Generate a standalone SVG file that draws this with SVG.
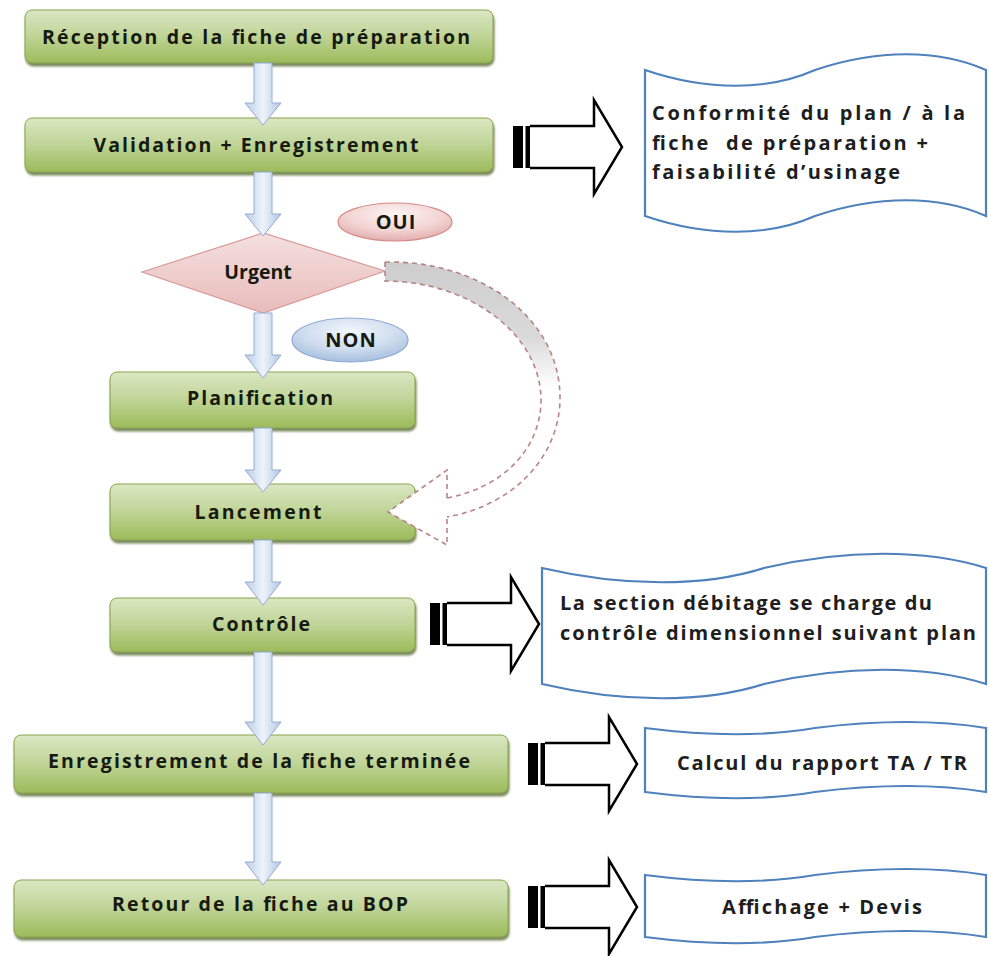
<svg xmlns="http://www.w3.org/2000/svg" width="989" height="956" viewBox="0 0 989 956">
  <defs>
    <linearGradient id="gGreen" x1="0" y1="0" x2="0" y2="1">
      <stop offset="0" stop-color="#dbe7c3"/>
      <stop offset="0.45" stop-color="#c2d69b"/>
      <stop offset="1" stop-color="#9cbb5a"/>
    </linearGradient>
    <linearGradient id="gBlueArrow" x1="0" y1="0" x2="1" y2="0">
      <stop offset="0" stop-color="#b9cde6"/>
      <stop offset="0.5" stop-color="#eef3fa"/>
      <stop offset="1" stop-color="#b3c8e3"/>
    </linearGradient>
    <linearGradient id="gPink" x1="0" y1="0" x2="0" y2="1">
      <stop offset="0" stop-color="#f4e0df"/>
      <stop offset="1" stop-color="#e8bcbb"/>
    </linearGradient>
    <radialGradient id="gOui" cx="0.5" cy="0.3" r="0.7">
      <stop offset="0" stop-color="#fdf5f5"/>
      <stop offset="0.6" stop-color="#f2d4d3"/>
      <stop offset="1" stop-color="#e2aeac"/>
    </radialGradient>
    <radialGradient id="gNon" cx="0.5" cy="0.3" r="0.7">
      <stop offset="0" stop-color="#f2f6fb"/>
      <stop offset="0.6" stop-color="#cddcee"/>
      <stop offset="1" stop-color="#a6bedf"/>
    </radialGradient>
    <linearGradient id="gBand" gradientUnits="userSpaceOnUse" x1="0" y1="262" x2="0" y2="430">
      <stop offset="0" stop-color="#cdcdcd"/>
      <stop offset="0.45" stop-color="#dadada"/>
      <stop offset="0.75" stop-color="#ffffff"/>
      <stop offset="1" stop-color="#ffffff"/>
    </linearGradient>
    <filter id="shadow" x="-5%" y="-20%" width="110%" height="150%">
      <feGaussianBlur in="SourceAlpha" stdDeviation="1.2"/>
      <feOffset dx="1" dy="2.5" result="b"/>
      <feFlood flood-color="#4f6228" flood-opacity="0.75"/>
      <feComposite in2="b" operator="in"/>
      <feMerge>
        <feMergeNode/>
        <feMergeNode in="SourceGraphic"/>
      </feMerge>
    </filter>
    <!-- striped block arrow, drawn with its left end at the origin and centred on y=0 -->
    <g id="blockArrow">
      <rect x="0" y="-21" width="10" height="42" fill="#000"/>
      <rect x="12.5" y="-21" width="4.5" height="42" fill="#000"/>
      <path d="M17,-21 H81 V-47 L109,0 L81,47 V21 H17" fill="#fff" stroke="#000" stroke-width="2.5" stroke-linejoin="miter"/>
    </g>
  </defs>
  <style>
    .box { fill: url(#gGreen); stroke: #86a34a; stroke-width: 1; filter: url(#shadow); }
    .lbl { font-family: "Open Sans", "Liberation Sans", Arial, sans-serif; font-weight: bold; font-size: 19.5px; fill: #161a10; text-anchor: middle; }
    .tag { font-size: 20px; letter-spacing: 1px; }
    .note { font-family: "Open Sans", "Liberation Sans", Arial, sans-serif; font-weight: bold; font-size: 20px; fill: #1e1e1e; }
    .doc { fill: #ffffff; stroke: #4f81bd; stroke-width: 2.2; }
    .flow { fill: url(#gBlueArrow); stroke: #93acd2; stroke-width: 1; }
    .dash { fill: none; stroke: #b68584; stroke-width: 1.6; stroke-dasharray: 5 4; }
  </style>

  <rect width="989" height="956" fill="#ffffff"/>

  <!-- process steps -->
  <g id="reception">
    <rect class="box" x="25" y="10" width="468" height="53" rx="7"/>
    <text class="lbl" x="256" y="44" textLength="428" lengthAdjust="spacing">Réception de la fiche de préparation</text>
  </g>
  <g id="validation">
    <rect class="box" x="25" y="118" width="468" height="54" rx="7"/>
    <text class="lbl" x="256" y="152" textLength="325" lengthAdjust="spacing">Validation + Enregistrement</text>
  </g>
  <g id="urgent">
    <polygon points="142,272 263,233 385,271 263,313" fill="url(#gPink)" stroke="#d89a98" stroke-width="1.2"/>
    <text class="lbl" x="258" y="279" font-size="20">Urgent</text>
  </g>
  <g id="oui">
    <ellipse cx="395" cy="222" rx="57" ry="19" fill="url(#gOui)" stroke="#d48a88" stroke-width="1.2"/>
    <text class="lbl tag" x="396" y="229">OUI</text>
  </g>
  <g id="non">
    <ellipse cx="350" cy="340" rx="58" ry="22" fill="url(#gNon)" stroke="#8faad3" stroke-width="1.2"/>
    <text class="lbl tag" x="351" y="347">NON</text>
  </g>
  <g id="planification">
    <rect class="box" x="110" y="372" width="305" height="56" rx="7"/>
    <text class="lbl" x="260" y="405" textLength="146" lengthAdjust="spacing">Planification</text>
  </g>
  <g id="lancement">
    <rect class="box" x="110" y="484" width="305" height="56" rx="7"/>
    <text class="lbl" x="258" y="519" textLength="127" lengthAdjust="spacing">Lancement</text>
  </g>
  <g id="controle">
    <rect class="box" x="110" y="598" width="305" height="54" rx="7"/>
    <text class="lbl" x="261" y="631" textLength="98" lengthAdjust="spacing">Contrôle</text>
  </g>
  <g id="enregistrement-fin">
    <rect class="box" x="14" y="735" width="494" height="58" rx="7"/>
    <text class="lbl" x="259" y="768" textLength="422" lengthAdjust="spacing">Enregistrement de la fiche terminée</text>
  </g>
  <g id="retour">
    <rect class="box" x="14" y="880" width="494" height="57" rx="7"/>
    <text class="lbl" x="260" y="911" textLength="296" lengthAdjust="spacing">Retour de la fiche au BOP</text>
  </g>

  <!-- side notes (wave shapes) -->
  <g id="note-conformite">
    <path class="doc" d="M645,70 C707,91 768,91 815,70 C877,49 939,49 986,70 V216 C939,195 877,195 815,216 C768,237 707,237 645,216 Z"/>
    <text class="note" x="652" y="120" textLength="313" lengthAdjust="spacing">Conformité du plan / à la</text>
    <text class="note" x="652" y="150" textLength="276" lengthAdjust="spacing" xml:space="preserve">fiche  de préparation +</text>
    <text class="note" x="652" y="179" textLength="248" lengthAdjust="spacing">faisabilité d’usinage</text>
  </g>
  <g id="note-debitage">
    <path class="doc" d="M542,568 C623,587 704,587 764,568 C845,549 926,549 986,568 V684 C926,665 845,665 764,684 C704,703 623,703 542,684 Z"/>
    <text class="note" x="560" y="610" textLength="372" lengthAdjust="spacing">La section débitage se charge du</text>
    <text class="note" x="560" y="640" textLength="416" lengthAdjust="spacing">contrôle dimensionnel suivant plan</text>
  </g>
  <g id="note-rapport">
    <path class="doc" d="M645,728 C707,736 768,736 815,728 C877,720 939,720 986,728 V792 C939,784 877,784 815,792 C768,800 707,800 645,792 Z"/>
    <text class="note" x="822" y="770" text-anchor="middle" textLength="290" lengthAdjust="spacing">Calcul du rapport TA / TR</text>
  </g>
  <g id="note-affichage">
    <path class="doc" d="M645,875 C707,883 768,883 815,875 C877,867 939,867 986,875 V937 C939,929 877,929 815,937 C768,945 707,945 645,937 Z"/>
    <text class="note" x="822" y="914" text-anchor="middle" textLength="200" lengthAdjust="spacing">Affichage + Devis</text>
  </g>

  <!-- connectors -->
  <g id="connectors">
    <!-- main flow arrows -->
    <path class="flow" d="M254,63 V103 H245 L263,125 L281,103 H272 V63 Z"/>
    <path class="flow" d="M254,172 V214 H245 L263,236 L281,214 H272 V172 Z"/>
    <path class="flow" d="M254,313 V355 H245 L263,378 L281,355 H272 V313 Z"/>
    <path class="flow" d="M254,428 V470 H245 L263,492 L281,470 H272 V428 Z"/>
    <path class="flow" d="M254,540 V582 H245 L263,605 L281,582 H272 V540 Z"/>
    <path class="flow" d="M254,652 V722 H245 L263,745 L281,722 H272 V652 Z"/>
    <path class="flow" d="M254,793 V862 H245 L263,885 L281,862 H272 V793 Z"/>

    <!-- urgent bypass: curved arrow from the decision to Lancement -->
    <path d="M385,262 C480,260 560,318 560,398 C560,455 515,505 447,517 L447,498 C505,487 541,447 541,400 C541,335 470,281 385,281 Z" fill="url(#gBand)" stroke="none"/>
    <path class="dash" d="M385,262 C480,260 560,318 560,398 C560,455 515,505 447,517"/>
    <path class="dash" d="M447,498 C505,487 541,447 541,400 C541,335 470,281 385,281 V262"/>
    <path d="M447,498 L447,470 L388,512 L447,545 L447,517" fill="#ffffff" stroke="#b68584" stroke-width="1.6" stroke-dasharray="5 4"/>

    <!-- outputs to the side notes -->
    <use href="#blockArrow" x="513" y="147"/>
    <use href="#blockArrow" x="430" y="624"/>
    <use href="#blockArrow" x="528" y="764"/>
    <use href="#blockArrow" x="528" y="907"/>
  </g>
</svg>
